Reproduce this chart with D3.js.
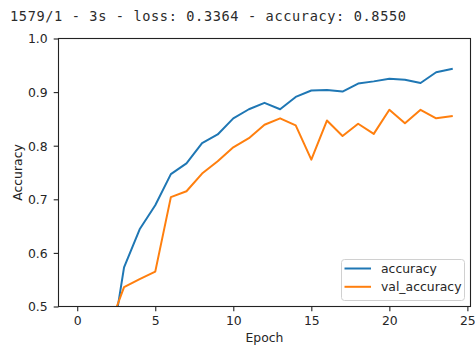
<!DOCTYPE html>
<html>
<head>
<meta charset="utf-8">
<script src="https://cdn.jsdelivr.net/npm/d3@7"></script>
<style>
  html, body { margin: 0; padding: 0; background: #fff; }
  svg { display: block; }
</style>
</head>
<body>
<svg id="chart" width="475" height="347"></svg>
<script>
// Training history: one value per epoch
const epochs = d3.range(0, 25);
const accuracy = [0.25, 0.33, 0.39, 0.573, 0.644, 0.689, 0.747, 0.767, 0.805, 0.821,
                  0.851, 0.868, 0.880, 0.868, 0.891, 0.903, 0.904, 0.901, 0.916, 0.920,
                  0.925, 0.923, 0.917, 0.937, 0.943];
const valAccuracy = [0.30, 0.41, 0.458, 0.536, 0.551, 0.565, 0.704, 0.715, 0.748, 0.771,
                     0.797, 0.814, 0.839, 0.851, 0.838, 0.774, 0.847, 0.818, 0.841, 0.822,
                     0.867, 0.842, 0.867, 0.851, 0.855];
const seriesNames = ["accuracy", "val_accuracy"];
const seriesColors = ["#1f77b4", "#ff7f0e"];
const xTicks = [0, 5, 10, 15, 20, 25];
const yTicks = [0.5, 0.6, 0.7, 0.8, 0.9, 1.0];
const headerText = "1579/1 - 3s - loss: 0.3364 - accuracy: 0.8550";

const svg = d3.select("#chart");
const plot = { left: 58.5, right: 470.5, top: 38.5, bottom: 306.5 };

// Header line printed above the figure
svg.append("text")
  .attr("x", 10).attr("y", 21)
  .attr("font-family", "'DejaVu Sans Mono', monospace")
  .attr("font-size", 13.6)
  .attr("fill", "#2b2b2b")
  .attr("textLength", 396)
  .attr("lengthAdjust", "spacing")
  .text(headerText);

const x = d3.scaleLinear().domain([-1.2, 25.2]).range([plot.left, plot.right]);
const y = d3.scaleLinear().domain([0.5, 1.0]).range([plot.bottom, plot.top]);

svg.append("clipPath").attr("id", "plotclip")
  .append("rect")
  .attr("x", plot.left).attr("y", plot.top)
  .attr("width", plot.right - plot.left).attr("height", plot.bottom - plot.top);

const line = d3.line().x((d, i) => x(epochs[i])).y(d => y(d));

const g = svg.append("g").attr("clip-path", "url(#plotclip)");
[accuracy, valAccuracy].forEach((vals, k) => {
  g.append("path")
    .datum(vals)
    .attr("d", line)
    .attr("fill", "none")
    .attr("stroke", seriesColors[k])
    .attr("stroke-width", 2)
    .attr("stroke-linejoin", "round")
    .attr("stroke-linecap", "square");
});

// Axes
const fontFamily = "'DejaVu Sans', sans-serif";
const fontSize = 12.4;
const xAxis = svg.append("g")
  .attr("transform", `translate(0,${plot.bottom})`)
  .call(d3.axisBottom(x).tickValues(xTicks).tickFormat(d3.format("d")).tickSize(4.8).tickPadding(5));
const yAxis = svg.append("g")
  .attr("transform", `translate(${plot.left},0)`)
  .call(d3.axisLeft(y).tickValues(yTicks).tickFormat(d3.format(".1f")).tickSize(4.8).tickPadding(6));

[xAxis, yAxis].forEach(a => {
  a.select(".domain").remove();
  a.selectAll(".tick line").attr("stroke", "#222").attr("stroke-width", 1.1);
  a.selectAll(".tick text")
    .attr("font-family", fontFamily)
    .attr("font-size", fontSize)
    .attr("fill", "#262626");
});
yAxis.selectAll(".tick text").attr("dy", "0.36em");

// Frame
svg.append("rect")
  .attr("x", plot.left).attr("y", plot.top)
  .attr("width", plot.right - plot.left).attr("height", plot.bottom - plot.top)
  .attr("fill", "none").attr("stroke", "#222").attr("stroke-width", 1.1);

// Axis titles
svg.append("text")
  .attr("x", (plot.left + plot.right) / 2).attr("y", 342)
  .attr("text-anchor", "middle")
  .attr("font-family", fontFamily).attr("font-size", fontSize).attr("fill", "#262626")
  .text("Epoch");
svg.append("text")
  .attr("transform", `translate(22,${(plot.top + plot.bottom) / 2}) rotate(-90)`)
  .attr("text-anchor", "middle")
  .attr("font-family", fontFamily).attr("font-size", fontSize).attr("fill", "#262626")
  .text("Accuracy");

// Legend
const legend = svg.append("g");
legend.append("rect")
  .attr("x", 341.5).attr("y", 259.5).attr("width", 123).attr("height", 41)
  .attr("rx", 3)
  .attr("fill", "#fff").attr("fill-opacity", 0.8)
  .attr("stroke", "#d0d0d0").attr("stroke-width", 1);
seriesNames.forEach((name, k) => {
  const ly = 268.5 + k * 18.3;
  legend.append("line")
    .attr("x1", 344.5).attr("x2", 371)
    .attr("y1", ly).attr("y2", ly)
    .attr("stroke", seriesColors[k]).attr("stroke-width", 2);
  legend.append("text")
    .attr("x", 381).attr("y", ly).attr("dy", "0.36em")
    .attr("font-family", fontFamily).attr("font-size", fontSize).attr("fill", "#262626")
    .text(name);
});
</script>
</body>
</html>
